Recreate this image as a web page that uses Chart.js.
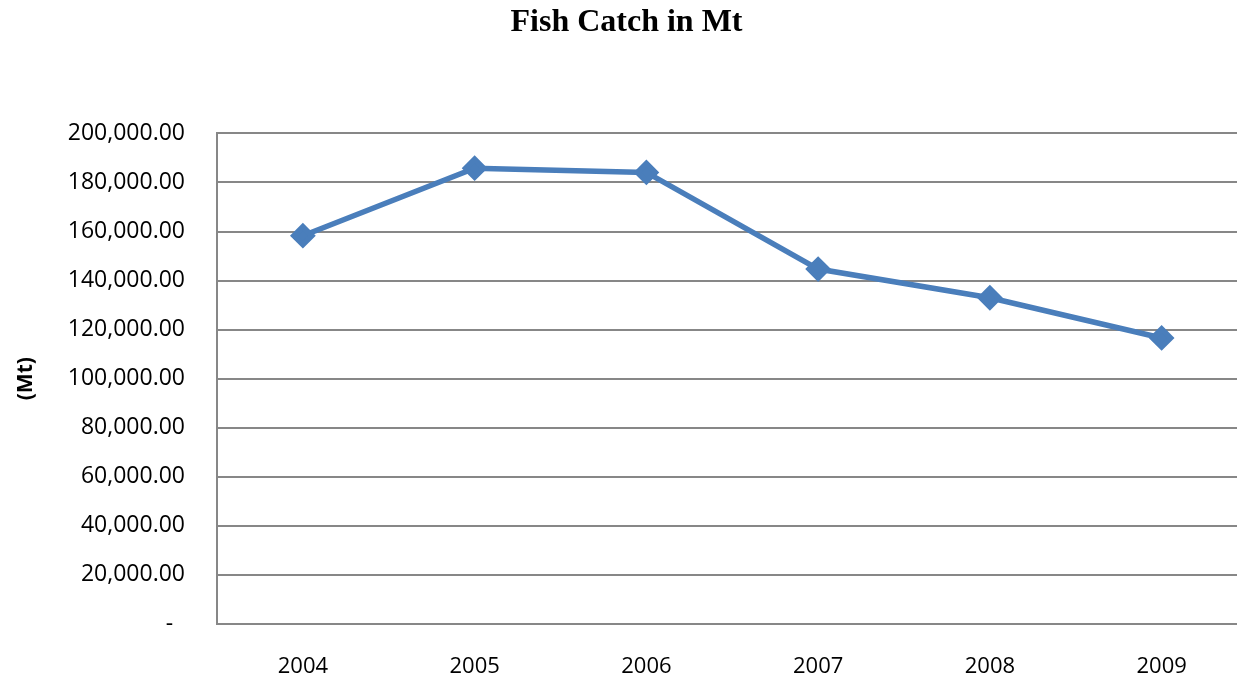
<!DOCTYPE html>
<html>
<head>
<meta charset="utf-8">
<script src="https://cdn.jsdelivr.net/npm/chart.js@4.4.1/dist/chart.umd.min.js"></script>
<style>
  html, body { margin: 0; padding: 0; background: #fff; overflow: hidden; }
  #wrap { position: absolute; left: 0; top: 0; width: 1262px; height: 682px; }
</style>
</head>
<body>
<div id="wrap"><canvas id="fish-chart"></canvas></div>
<script>
// values
const years = ["2004", "2005", "2006", "2007", "2008", "2009"];
const catchMt = [158300, 185800, 184100, 144700, 133000, 116600];
const yMin = 0;
const yMax = 200000;
const yStep = 20000;

const gridColor = "#878787";
const lineColor = "#4A7EBB";

const ctx = document.getElementById("fish-chart").getContext("2d");

new Chart(ctx, {
    type: "line",
    data: {
        labels: years,
        datasets: [{
            label: "Fish Catch",
            data: catchMt,
            borderColor: lineColor,
            backgroundColor: lineColor,
            borderWidth: 5.5,
            pointStyle: "rectRot",
            pointRadius: 9,
            pointHoverRadius: 9,
            tension: 0,
            fill: false,
        }],
    },
    options: {
        responsive: true,
        maintainAspectRatio: false,
        animation: false,
        layout: { padding: { left: 0, right: 9, top: 0, bottom: 0 } },
        plugins: {
            legend: { display: false },
            tooltip: { enabled: false },
            title: {
                display: true,
                text: "Fish Catch in Mt",
                color: "#000",
                font: { family: "'Liberation Serif', 'Times New Roman', serif", size: 32, weight: "bold" },
                padding: { top: 4, bottom: 91 },
            },
        },
        scales: {
            x: {
                offset: true,
                grid: { display: false, drawTicks: false, offset: true },
                border: { display: true, color: gridColor, width: 2 },
                ticks: {
                    color: "#000",
                    font: { family: "'Open Sans', sans-serif", size: 22 },
                    padding: 30,
                    maxRotation: 0,
                },
                afterFit(scale) { scale.height = 58; },
            },
            y: {
                min: yMin,
                max: yMax,
                grid: { color: gridColor, lineWidth: 2, drawTicks: false },
                border: { display: true, color: gridColor, width: 2 },
                ticks: {
                    stepSize: yStep,
                    color: "#000",
                    font: { family: "'Open Sans', sans-serif", size: 23 },
                    padding: 32,
                    callback: (v) => v === 0 ? "-  " : v.toLocaleString("en-US", { minimumFractionDigits: 2, maximumFractionDigits: 2 }),
                },
                title: {
                    display: true,
                    text: "(Mt)",
                    color: "#000",
                    font: { family: "'Open Sans', sans-serif", size: 21, weight: "bold" },
                    padding: { top: 13, bottom: 0 },
                },
                afterFit(scale) { scale.width = 217; },
            },
        },
    },
});
</script>
</body>
</html>
